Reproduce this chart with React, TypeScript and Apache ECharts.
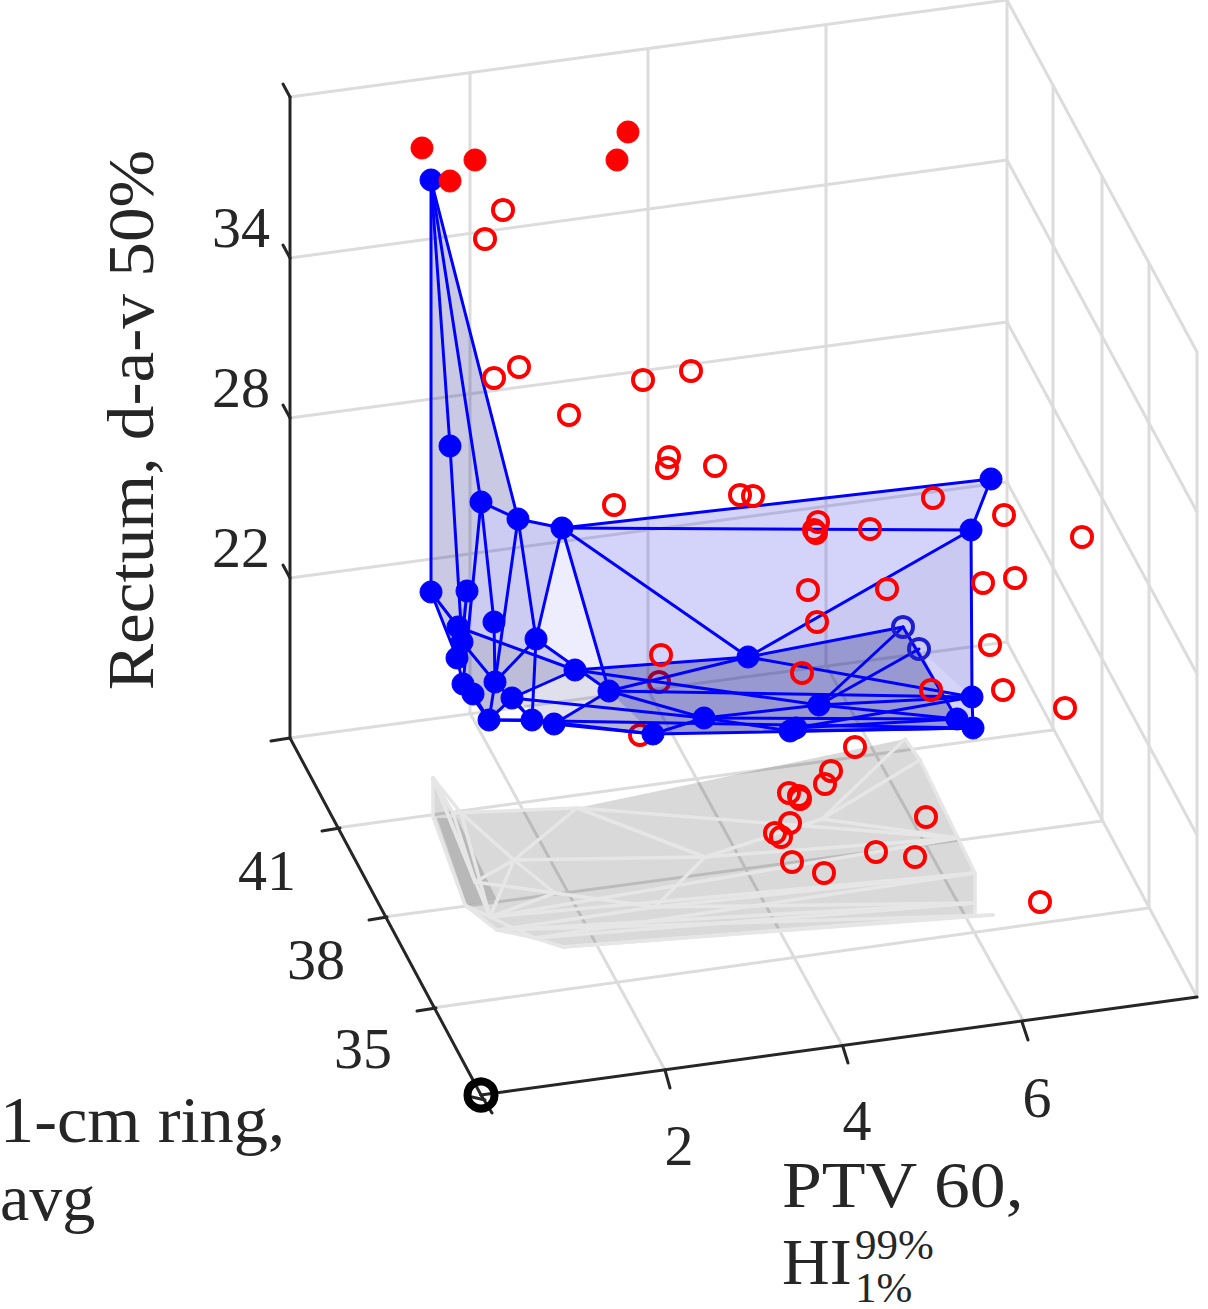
import * as echarts from "echarts";
import { useEffect, useRef } from "react";

const boxGrid = [
  [290, 97, 1007, 0], [290, 258, 1007, 160], [290, 418, 1007, 322], [290, 578, 1007, 482], [290, 738, 1007, 642],
  [470, 73, 470, 713], [648, 49, 648, 690], [826, 25, 826, 665], [1007, 0, 1007, 642],
  [1007, 0, 1197, 352], [1007, 160, 1197, 512], [1007, 322, 1197, 674], [1007, 482, 1197, 835], [1007, 642, 1197, 997],
  [1053, 85, 1053, 730], [1102, 176, 1102, 821], [1149, 263, 1149, 908], [1197, 352, 1197, 997],
  [470, 713, 665, 1070], [648, 690, 843, 1047], [826, 665, 1024, 1022],
  [336, 828, 1053, 730], [384, 917, 1102, 821], [432, 1008, 1149, 908],
];
const boxAxes = [
  [290, 97, 290, 738], [290, 738, 481, 1095], [481, 1095, 1197, 997],
  [283, 84, 290, 97], [283, 245, 290, 258], [283, 405, 290, 418], [283, 565, 290, 578], [271, 741, 290, 738],
  [322, 831, 340, 828], [369, 920, 387, 917], [417, 1011, 436, 1008],
  [665, 1070, 670, 1088], [843, 1047, 848, 1063], [1022, 1022, 1028, 1040],
  [481, 1095, 492, 1113], [472, 1097, 485, 1100],
];

const blue: Record<string, number[]> = {
  A: [431, 180], B: [450, 446], C: [481, 502], D: [518, 519], E: [562, 528], F: [991, 479], G: [971, 530],
  H: [431, 592], I: [467, 591], J: [494, 622], K: [458, 627], L: [462, 642], M: [457, 658], N: [536, 639],
  O: [575, 670], P: [748, 657], Q: [609, 691], R: [495, 682], S: [463, 684], T: [473, 694], U: [512, 698],
  V: [489, 720], W: [532, 720], X: [554, 724], Y: [653, 734], Z: [704, 718], AA: [819, 705], AB: [790, 731],
  AC: [796, 728], AD: [957, 719], AE: [973, 728], AF: [972, 697], AG: [903, 627], AH: [919, 649],
};
const blueHollow = ["AG", "AH"];
const blueEdges = [
  "A-H", "A-B", "A-C", "A-D", "B-L", "C-D", "D-E", "C-S", "C-J", "D-N", "D-R", "E-N", "E-Q", "E-P", "E-F", "E-G", "F-G", "G-P", "G-AF",
  "AF-AE", "H-K", "H-M", "I-L", "J-R", "L-R", "K-O", "N-R", "N-W", "N-Q", "O-U", "O-P", "O-AA", "Q-P", "Q-Z", "Q-AF", "Q-X",
  "R-V", "R-W", "U-V", "U-W", "U-Z", "S-T", "T-V", "S-V", "M-S", "V-W", "W-X", "X-Y", "V-AE", "W-Y", "Y-Z", "Z-AA", "Z-AB", "Z-AD",
  "P-AF", "P-AG", "AA-AG", "AA-AH", "AG-AD", "AA-AF", "AA-AD", "AC-AF", "AC-AD", "Y-AE", "AB-AE", "AD-AE",
];
// [vertices, colour] back to front
const blueFaces: [string[], string][] = [
  [["A", "D", "C", "I", "H"], "rgba(0,0,122,0.21)"],
  [["H", "I", "L", "M"], "rgba(0,0,122,0.21)"],
  [["C", "D", "E", "N", "O", "K", "I"], "rgba(0,0,190,0.2)"],
  [["E", "F", "G", "AF", "AE", "Y", "Q"], "rgba(0,0,225,0.17)"],
  [["E", "N", "O", "Q"], "rgba(0,0,225,0.07)"],
  [["G", "P", "AG", "AH", "AF"], "rgba(0,0,100,0.05)"],
  [["L", "K", "O", "U", "V", "T", "S"], "rgba(0,0,108,0.26)"],
  [["U", "O", "Q", "X"], "rgba(0,0,108,0.12)"],
  [["O", "P", "AG", "AH", "AD", "AE", "Y", "X", "Q"], "rgba(0,0,108,0.28)"],
];

const shadow: Record<string, number[]> = {
  a: [433, 778], b: [433, 817], c: [453, 813], d: [461, 813], e: [577, 808], f: [514, 860], g: [705, 857], h: [655, 907],
  i: [555, 893], j: [475, 882], k: [490, 917], l: [465, 905], m: [497, 930], n: [535, 938], o: [563, 947], p: [822, 819],
  q: [905, 739], r: [920, 760], s: [958, 838], t: [975, 873], u: [975, 903], v: [975, 915], w: [993, 915],
};
const shadowOutline = ["a", "c", "e", "q", "r", "t", "v", "o", "n", "m", "l", "b"];
const shadowFold = [[437, 818], [457, 818], [497, 900], [467, 905]];
const shadowEdges = [
  "a-b", "a-c", "a-j", "a-k", "a-d", "c-e", "d-k", "c-j", "b-l", "l-m", "m-n", "n-o", "d-f", "f-e", "e-g", "e-s", "f-g", "f-k", "f-j", "f-i",
  "i-h", "h-g", "g-p", "p-q", "p-r", "p-s", "i-j", "i-k", "k-s", "k-t", "m-h", "h-t", "n-t", "n-u", "o-v", "m-u", "k-n", "l-k", "o-w", "m-w", "q-r", "r-t", "t-v", "g-s", "h-u",
];

const redFilled = [[422, 148], [475, 160], [450, 181], [628, 132], [617, 160]];
const redBehind = [[659, 682], [640, 735]];
const redHollow = [
  [503, 210], [485, 239], [494, 378], [519, 367], [569, 415], [643, 380], [691, 371], [669, 457], [667, 468], [715, 466],
  [740, 495], [753, 496], [614, 505], [933, 498], [818, 522], [814, 530], [816, 533], [870, 529], [1004, 515], [1082, 537],
  [1015, 578], [983, 583], [808, 590], [887, 589], [817, 622], [990, 645], [661, 655], [802, 673], [931, 690], [1003, 690],
  [1065, 708], [855, 747], [831, 771], [825, 784], [789, 793], [799, 796], [800, 799], [790, 823], [775, 833], [781, 837],
  [792, 862], [824, 873], [876, 852], [915, 857], [926, 817], [1040, 902],
];
const originRing = [[481, 1095]];

const zTicks = ["22", "28", "34"];
const zTickPos = [[241, 547], [241, 387], [241, 227]];
const yTicks = ["35", "38", "41"];
const yTickPos = [[363, 1048], [316, 959], [267, 870]];
const xTicks = ["2", "4", "6"];
const xTickPos = [[679, 1145], [857, 1120], [1037, 1097]];

const FONT = '"Liberation Serif", serif';
const INK = "#262626";

function edgesToSegs(edges: string[], pts: Record<string, number[]>) {
  return edges.map((e) => {
    const [a, b] = e.split("-");
    return [...pts[a], ...pts[b]];
  });
}

function segments(name: string, data: number[][], color: string, width: number, z: number) {
  return {
    type: "custom",
    name,
    z,
    silent: true,
    clip: false,
    data,
    renderItem: (_: any, api: any) => {
      const p1 = api.coord([api.value(0), api.value(1)]);
      const p2 = api.coord([api.value(2), api.value(3)]);
      return {
        type: "line",
        shape: { x1: p1[0], y1: p1[1], x2: p2[0], y2: p2[1] },
        style: { stroke: color, lineWidth: width, fill: null, lineCap: "round" },
      };
    },
  };
}

function polygons(name: string, faces: number[][][], colors: string[], z: number) {
  return {
    type: "custom",
    name,
    z,
    silent: true,
    clip: false,
    data: faces.map((f) => f[0]),
    renderItem: (params: any, api: any) => ({
      type: "polygon",
      shape: { points: faces[params.dataIndex].map((p) => api.coord(p)) },
      style: { fill: colors[params.dataIndex] },
    }),
  };
}

function dots(name: string, data: number[][], fill: string, stroke: string, size: number, width: number, z: number) {
  return {
    type: "scatter",
    name,
    z,
    silent: true,
    data,
    symbol: "circle",
    symbolSize: size,
    clip: false,
    itemStyle: { color: fill, borderColor: stroke, borderWidth: width, opacity: 1 },
  };
}

function label(text: string, x: number, y: number, fontSize: number, scaleX = 1, extra: any = {}) {
  return {
    type: "text",
    x,
    y,
    scaleX,
    silent: true,
    style: { text, fontFamily: FONT, fontSize, fill: INK, textVerticalAlign: "middle", ...extra },
  };
}

function tickLabels(texts: string[], pos: number[][]) {
  return texts.map((t, i) => label(t, pos[i][0], pos[i][1], 58, 1, { textAlign: "center" }));
}

export default function App() {
  const chartRef = useRef<HTMLDivElement>(null);
  useEffect(() => {
    const chart = echarts.init(chartRef.current, null, { renderer: "svg" });
    const solid = Object.keys(blue).filter((k) => !blueHollow.includes(k));
    chart.setOption({
      animation: false,
      backgroundColor: "#fff",
      grid: { left: 0, right: 0, top: 0, bottom: 0 },
      xAxis: { type: "value", min: 0, max: 1208, show: false },
      yAxis: { type: "value", min: 0, max: 1309, inverse: true, show: false },
      series: [
        segments("box grid", boxGrid, "#dcdcdc", 3, 1),
        polygons(
          "shadow",
          [shadowOutline.map((k) => shadow[k]), shadowFold],
          ["rgba(0,0,0,0.15)", "rgba(0,0,0,0.15)"],
          2
        ),
        segments("shadow mesh", edgesToSegs(shadowEdges, shadow), "#e6e6e6", 3.5, 3),
        segments("box axes", boxAxes, INK, 3, 4),
        dots("origin", originRing, "transparent", "#000", 27, 8, 5),
        dots("dominated behind", redBehind, "transparent", "#ff0000", 20, 4, 6),
        polygons(
          "blue faces",
          blueFaces.map((f) => f[0].map((k) => blue[k])),
          blueFaces.map((f) => f[1]),
          7
        ),
        segments("blue mesh", edgesToSegs(blueEdges, blue), "#0000ff", 3, 8),
        dots("pareto", solid.map((k) => blue[k]), "#0000ff", "#0000ff", 22, 1, 9),
        dots("pareto hidden", blueHollow.map((k) => blue[k]), "transparent", "#1c1cd0", 20, 4, 9),
        dots("dominated", redHollow, "transparent", "#ff0000", 20, 4, 10),
        dots("outliers", redFilled, "#ff0000", "#ff0000", 22, 1, 10),
      ],
      graphic: [
        ...tickLabels(zTicks, zTickPos),
        ...tickLabels(yTicks, yTickPos),
        ...tickLabels(xTicks, xTickPos),
        { ...label("Rectum, d-a-v 50%", 131, 420, 66, 1.05, { textAlign: "center" }), rotation: Math.PI / 2 },
        label("1-cm ring,", 0, 1120, 66, 1.037),
        label("avg", 0, 1197, 66),
        label("PTV 60,", 782, 1185, 66, 1.086),
        label("HI", 782, 1261, 66),
        label("99%", 855, 1244, 43),
        label("1%", 855, 1287, 43),
      ],
    });
    return () => {
      chart.dispose();
    };
  }, []);

  return (
    <div
      ref={chartRef}
      style={{ position: "absolute", left: 0, top: 0, width: 1208, height: 1309 }}
    />
  );
}
